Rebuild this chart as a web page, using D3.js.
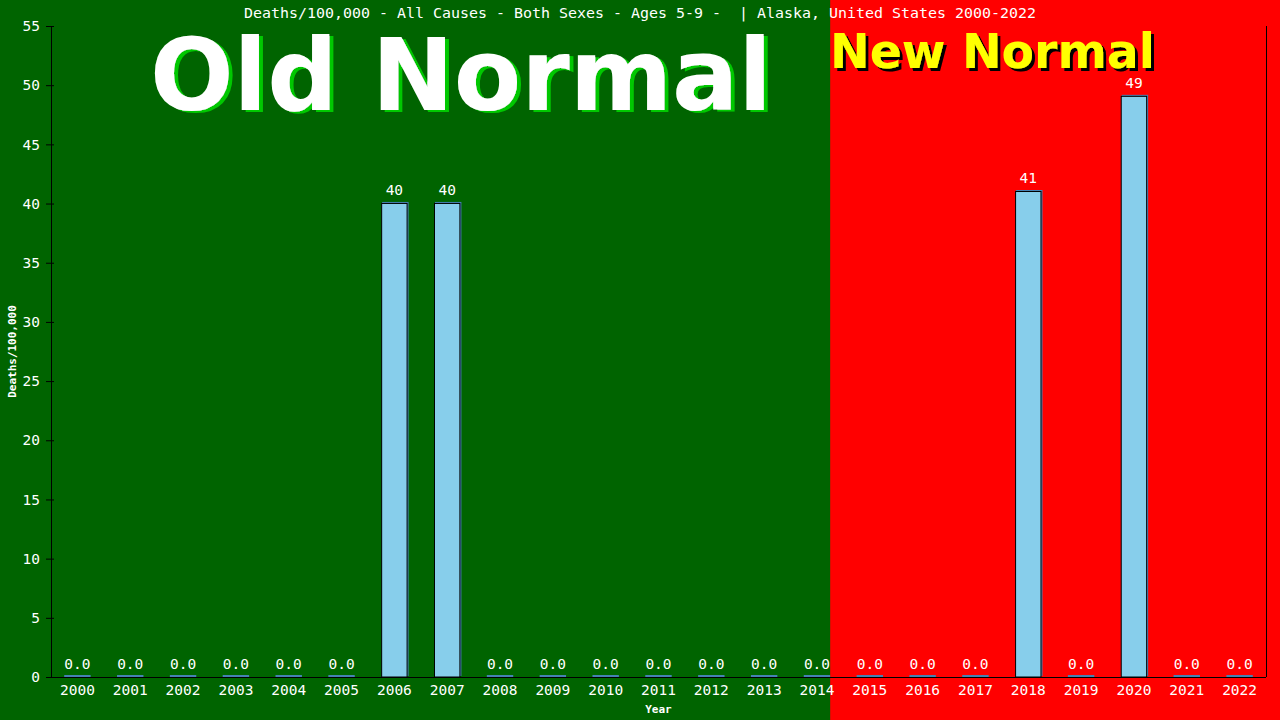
<!DOCTYPE html>
<html>
<head>
<meta charset="utf-8">
<script src="https://cdn.jsdelivr.net/npm/d3@7"></script>
<style>
  html, body { margin: 0; padding: 0; background: #006400; }
  svg { display: block; }
</style>
</head>
<body>
<svg id="chart" width="1280" height="720"></svg>
<script>
// data
const years = ["2000","2001","2002","2003","2004","2005","2006","2007","2008","2009","2010","2011",
  "2012","2013","2014","2015","2016","2017","2018","2019","2020","2021","2022"];
const deaths = [0,0,0,0,0,0,40.05,40.05,0,0,0,0,0,0,0,0,0,0,41.06,0,49.1,0,0];
const valueLabels = ["0.0","0.0","0.0","0.0","0.0","0.0","40","40","0.0","0.0","0.0","0.0",
  "0.0","0.0","0.0","0.0","0.0","0.0","41","0.0","49","0.0","0.0"];
const yTicks = [0,5,10,15,20,25,30,35,40,45,50,55];
const lastOldYear = "2014";

const title = "Deaths/100,000 - All Causes - Both Sexes - Ages 5-9 -  | Alaska, United States 2000-2022";
const mono = "'DejaVu Sans Mono', monospace";

const W = 1280, H = 720;
const margin = { top: 26, right: 14, bottom: 43, left: 51 };

const x = d3.scaleBand()
  .domain(years)
  .range([margin.left, W - margin.right])
  .paddingInner(0.5)
  .paddingOuter(0.25);

const y = d3.scaleLinear()
  .domain([0, 55])
  .range([H - margin.bottom, margin.top]);

const svg = d3.select("#chart");

// shadows for the big labels (filters, so there is one text each)
const defs = svg.append("defs");
const addShadow = (id, dx, dy, color) => {
  defs.append("filter").attr("id", id)
    .attr("x", "-5%").attr("y", "-10%").attr("width", "115%").attr("height", "130%")
    .append("feDropShadow")
    .attr("dx", dx).attr("dy", dy).attr("stdDeviation", 0)
    .attr("flood-color", color).attr("flood-opacity", 1);
};
addShadow("greenShadow", 4, 2, "#00c800");
addShadow("blackShadow", 3, 3, "#000000");

// backgrounds: old normal / new normal
const split = x(lastOldYear) + x.bandwidth();
svg.append("rect").attr("x", 0).attr("y", 0).attr("width", split).attr("height", H).attr("fill", "#006400");
svg.append("rect").attr("x", split).attr("y", 0).attr("width", W - split).attr("height", H).attr("fill", "#ff0000");

// big labels
svg.append("text")
  .attr("x", 150).attr("y", 110)
  .attr("textLength", 622).attr("lengthAdjust", "spacingAndGlyphs")
  .attr("font-family", "'DejaVu Sans', sans-serif").attr("font-weight", "bold")
  .attr("font-size", 100).attr("fill", "#ffffff")
  .attr("filter", "url(#greenShadow)")
  .text("Old Normal");

svg.append("text")
  .attr("x", 830).attr("y", 68)
  .attr("textLength", 325).attr("lengthAdjust", "spacingAndGlyphs")
  .attr("font-family", "'DejaVu Sans', sans-serif").attr("font-weight", "bold")
  .attr("font-size", 48).attr("fill", "#ffff00")
  .attr("filter", "url(#blackShadow)")
  .text("New Normal");

// title
svg.append("text")
  .attr("x", 640).attr("y", 18)
  .attr("text-anchor", "middle")
  .attr("font-family", mono).attr("font-size", 14.5)
  .attr("fill", "white")
  .style("white-space", "pre")
  .attr("textLength", 792).attr("lengthAdjust", "spacingAndGlyphs")
  .text(title);

// bars
const bars = svg.append("g");
const data = years.map((yr, i) => ({ yr, v: deaths[i], label: valueLabels[i] }));

bars.selectAll(".shadow")
  .data(data.filter(d => d.v > 0))
  .enter().append("rect")
  .attr("class", "shadow")
  .attr("x", d => x(d.yr) + 1)
  .attr("y", d => y(d.v) - 1)
  .attr("width", x.bandwidth())
  .attr("height", d => y(0) - y(d.v))
  .attr("fill", "#4682b4");

bars.selectAll(".bar")
  .data(data.filter(d => d.v > 0))
  .enter().append("rect")
  .attr("class", "bar")
  .attr("x", d => x(d.yr) + 0.5)
  .attr("y", d => y(d.v) + 0.5)
  .attr("width", x.bandwidth() - 1)
  .attr("height", d => y(0) - y(d.v) - 0.5)
  .attr("fill", "#87ceeb")
  .attr("stroke", "black")
  .attr("stroke-width", 1);

bars.selectAll(".zero")
  .data(data.filter(d => d.v === 0))
  .enter().append("rect")
  .attr("class", "zero")
  .attr("x", d => x(d.yr))
  .attr("y", y(0) - 2)
  .attr("width", x.bandwidth())
  .attr("height", 2)
  .attr("fill", "#4682b4");

bars.selectAll(".val")
  .data(data)
  .enter().append("text")
  .attr("class", "val")
  .attr("x", d => x(d.yr) + x.bandwidth() / 2)
  .attr("y", d => y(d.v) - 8)
  .attr("text-anchor", "middle")
  .attr("font-family", mono).attr("font-size", 14.5)
  .attr("fill", "white")
  .text(d => d.label);

// y axis
const yAxisG = svg.append("g")
  .attr("transform", `translate(${margin.left},0)`)
  .call(d3.axisLeft(y).tickValues(yTicks).tickSize(5).tickPadding(6).tickFormat(d3.format("d")));
yAxisG.select(".domain").remove();
yAxisG.selectAll(".tick line").attr("stroke", "black").attr("x1", -5).attr("x2", 3);
yAxisG.selectAll(".tick text")
  .attr("fill", "white").attr("font-family", mono).attr("font-size", 14.5);

// x axis
const xAxisG = svg.append("g")
  .attr("transform", `translate(0,${y(0)})`)
  .call(d3.axisBottom(x).tickSize(0).tickPadding(8));
xAxisG.select(".domain").remove();
xAxisG.selectAll(".tick text")
  .attr("fill", "white").attr("font-family", mono).attr("font-size", 14.5);

// frame: left axis, bottom axis, right border
svg.append("line").attr("x1", margin.left + 0.5).attr("x2", margin.left + 0.5)
  .attr("y1", y(55)).attr("y2", y(0)).attr("stroke", "black");
svg.append("line").attr("x1", margin.left).attr("x2", W - margin.right)
  .attr("y1", y(0) + 0.5).attr("y2", y(0) + 0.5).attr("stroke", "black");
svg.append("line").attr("x1", W - margin.right + 0.5).attr("x2", W - margin.right + 0.5)
  .attr("y1", y(55)).attr("y2", y(0)).attr("stroke", "black");

// axis titles
svg.append("text")
  .attr("x", (margin.left + W - margin.right) / 2).attr("y", 713)
  .attr("text-anchor", "middle")
  .attr("font-family", mono).attr("font-weight", "bold").attr("font-size", 11)
  .attr("fill", "white")
  .text("Year");
svg.append("text")
  .attr("transform", `translate(16,${(y(0) + y(55)) / 2}) rotate(-90)`)
  .attr("text-anchor", "middle")
  .attr("font-family", mono).attr("font-weight", "bold").attr("font-size", 11)
  .attr("fill", "white")
  .text("Deaths/100,000");
</script>
</body>
</html>
